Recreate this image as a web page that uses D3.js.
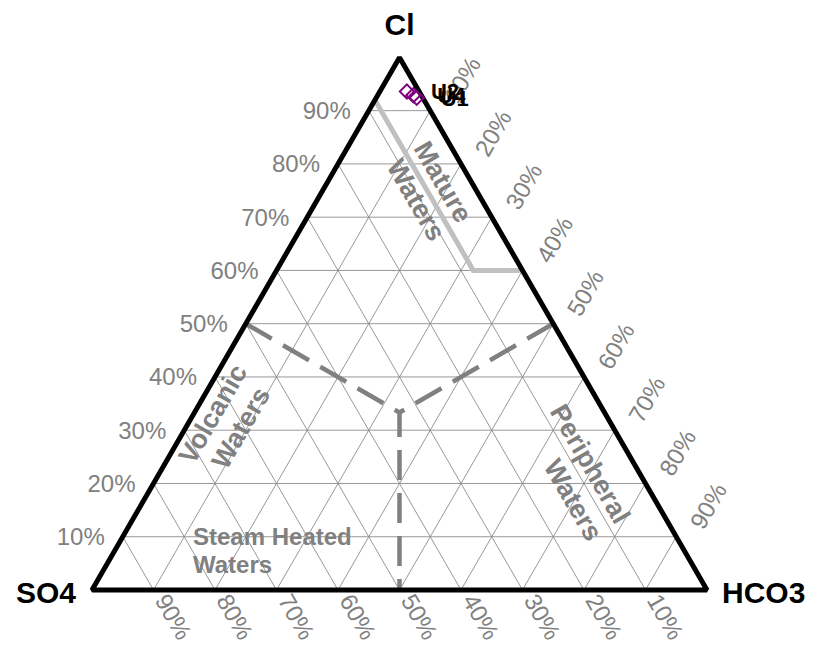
<!DOCTYPE html>
<html>
<head>
<meta charset="utf-8">
<script src="https://cdn.jsdelivr.net/npm/d3@7"></script>
<style>
  html, body { margin: 0; padding: 0; background: #fff; }
  svg { display: block; font-family: "Liberation Sans", Arial, sans-serif; }
</style>
</head>
<body>
<svg id="chart" width="815" height="649"></svg>
<script>
// Sample compositions (% of Cl + SO4 + HCO3)
const samples = ["U2", "U4", "U1"];
const so4Values = [2.0, 1.3, 1.0];
const clValues = [93.6, 92.9, 92.4];
const hco3Values = [4.4, 5.8, 6.6];

// Grid / tick levels
const tickValues = [10, 20, 30, 40, 50, 60, 70, 80, 90];
const tickLabels = ["10%", "20%", "30%", "40%", "50%", "60%", "70%", "80%", "90%"];

// Apex names
const apexNames = ["SO4", "Cl", "HCO3"];

// Classification boundaries, each vertex as [SO4, Cl, HCO3]
const matureBoundary = [[8, 92, 0], [8, 60, 32], [0, 60, 40]];
const volcanicBoundary = [[50, 50, 0], [33.33, 33.33, 33.33], [50, 0, 50]];
const peripheralBoundary = [[0, 50, 50], [33.33, 33.33, 33.33]];

// Region names
const regionNames = ["Mature Waters", "Volcanic Waters", "Peripheral Waters", "Steam Heated Waters"];

const svg = d3.select("#chart");

const plotLeft = 92, plotRight = 707, plotBase = 590;
const side = plotRight - plotLeft;
const plotTop = plotBase - side * Math.sqrt(3) / 2;

// x runs on (HCO3 + Cl/2), y runs on Cl
const xScale = d3.scaleLinear().domain([0, 100]).range([plotLeft, plotRight]);
const yScale = d3.scaleLinear().domain([0, 100]).range([plotBase, plotTop]);

function tern(s, c, h) {
  const t = s + c + h;
  const cc = 100 * c / t, hh = 100 * h / t;
  return [xScale(hh + cc / 2), yScale(cc)];
}

const line = d3.line();
const gray = "#808080";

// Grid
const grid = svg.append("g").attr("stroke", "#8c8c8c").attr("stroke-width", 0.9).attr("fill", "none");
tickValues.forEach(v => {
  grid.append("path").attr("d", line([tern(100 - v, v, 0), tern(0, v, 100 - v)]));
  grid.append("path").attr("d", line([tern(v, 100 - v, 0), tern(v, 0, 100 - v)]));
  grid.append("path").attr("d", line([tern(0, 100 - v, v), tern(100 - v, 0, v)]));
});

// Region boundaries
svg.append("path")
  .attr("d", line(matureBoundary.map(p => tern(...p))))
  .attr("fill", "none").attr("stroke", "#c0c0c0").attr("stroke-width", 5);

[volcanicBoundary, peripheralBoundary].forEach(b => {
  svg.append("path")
    .attr("d", line(b.map(p => tern(...p))))
    .attr("fill", "none").attr("stroke", gray).attr("stroke-width", 4.5)
    .attr("stroke-dasharray", "30,13").attr("stroke-linejoin", "round");
});

// Triangle outline
svg.append("path")
  .attr("d", line([tern(100, 0, 0), tern(0, 100, 0), tern(0, 0, 100)]) + "Z")
  .attr("fill", "none").attr("stroke", "#000").attr("stroke-width", 5)
  .attr("stroke-linejoin", "bevel");

// Tick labels
const tickG = svg.append("g").attr("fill", gray).attr("font-size", 24);
tickValues.forEach((v, i) => {
  // Cl along the left edge
  const pl = tern(100 - v, v, 0);
  tickG.append("text").attr("x", pl[0] - 18).attr("y", pl[1])
    .attr("text-anchor", "end").attr("dominant-baseline", "central").text(tickLabels[i]);
  // HCO3 along the right edge
  const pr = tern(0, 100 - v, v);
  tickG.append("text")
    .attr("transform", `translate(${pr[0] + 20},${pr[1] - 10}) rotate(-60)`)
    .attr("text-anchor", "start").attr("dominant-baseline", "central").text(tickLabels[i]);
  // SO4 along the bottom edge
  const pb = tern(v, 0, 100 - v);
  tickG.append("text")
    .attr("transform", `translate(${pb[0] + 8},${pb[1] + 6}) rotate(60)`)
    .attr("text-anchor", "start").attr("dominant-baseline", "central").text(tickLabels[i]);
});

// Region names
const regG = svg.append("g").attr("fill", gray).attr("font-weight", "bold");
function regionText(txt, pos, angle) {
  regG.append("text")
    .attr("transform", `translate(${pos[0]},${pos[1]}) rotate(${angle})`)
    .attr("font-size", 27)
    .attr("text-anchor", "middle").attr("dominant-baseline", "central").text(txt);
}
const words = regionNames.map(n => n.split(" "));
regionText(words[0][0], [443, 182], 60);
regionText(words[0][1], [416, 200], 60);
regionText(words[1][0], [213, 414], -60);
regionText(words[1][1], [241, 428], -60);
regionText(words[2][0], [590, 464], 60);
regionText(words[2][1], [573, 500], 60);
regG.append("text").attr("x", 193).attr("y", 545).attr("font-size", 24).text(words[3][0] + " " + words[3][1]);
regG.append("text").attr("x", 193).attr("y", 573).attr("font-size", 24).text(words[3][2]);

// Samples
const sym = d3.symbol().type(d3.symbolSquare).size(100);
samples.forEach((name, i) => {
  const p = tern(so4Values[i], clValues[i], hco3Values[i]);
  svg.append("path").attr("d", sym())
    .attr("transform", `translate(${p[0]},${p[1]}) rotate(45)`)
    .attr("fill", "none").attr("stroke", "#800080").attr("stroke-width", 2);
});
samples.forEach((name, i) => {
  const p = tern(so4Values[i], clValues[i], hco3Values[i]);
  svg.append("text").attr("x", p[0] + 24).attr("y", p[1] + 8)
    .attr("font-size", 22).attr("font-weight", "bold").attr("fill", "#000").text(name);
});

// Apex names
const apexG = svg.append("g").attr("font-size", 30).attr("font-weight", "bold").attr("fill", "#000");
apexG.append("text").attr("x", xScale(50)).attr("y", 35).attr("text-anchor", "middle").text(apexNames[1]);
apexG.append("text").attr("x", 76).attr("y", 603).attr("text-anchor", "end").text(apexNames[0]);
apexG.append("text").attr("x", 722).attr("y", 603).attr("text-anchor", "start").text(apexNames[2]);
</script>
</body>
</html>
